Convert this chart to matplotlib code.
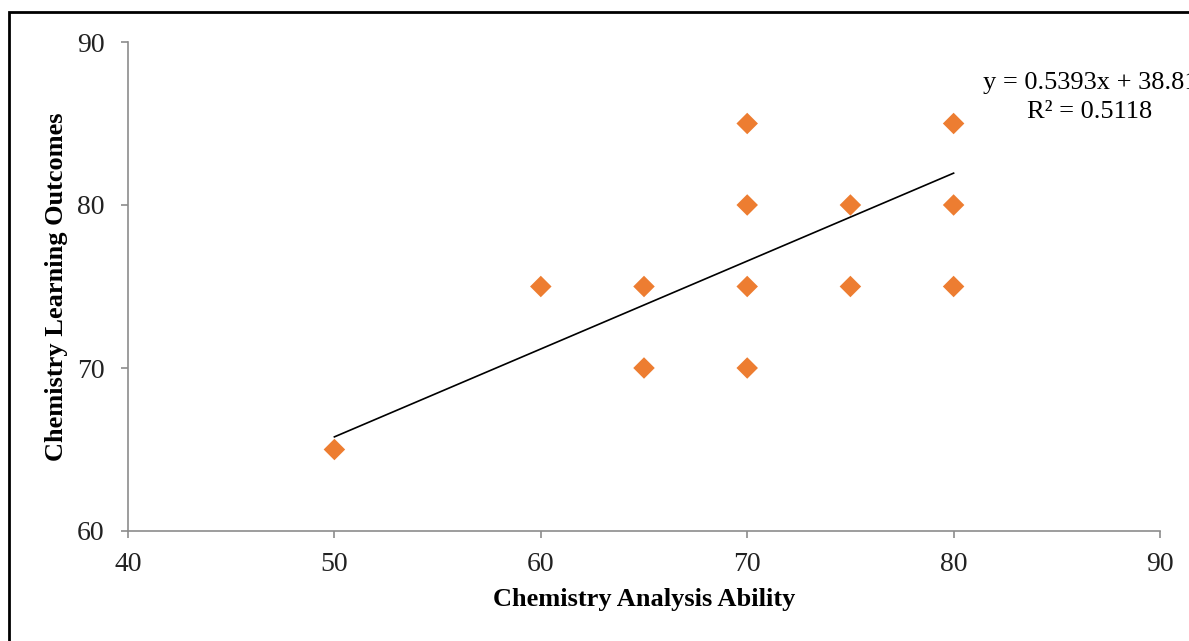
import matplotlib
matplotlib.use("Agg")
import matplotlib.pyplot as plt
from matplotlib.patches import Rectangle

# data
analysis_ability = [50, 60, 65, 65, 70, 70, 70, 70, 75, 75, 80, 80, 80]
learning_outcomes = [65, 75, 75, 70, 85, 80, 75, 70, 80, 75, 85, 80, 75]

# trendline as printed on the chart
slope = 0.5393
intercept = 38.81
r_squared = 0.5118
trend_x = [min(analysis_ability), max(analysis_ability)]
trend_y = [slope * x + intercept for x in trend_x]

plt.rcParams['font.family'] = ['Liberation Serif', 'DejaVu Serif']

fig = plt.figure(figsize=(11.89, 6.41), dpi=100)
ax = fig.add_axes([128 / 1189, 110 / 641, 1032 / 1189, 489 / 641])

# outer frame around the chart area (cut off at right and bottom)
fig.patches.append(Rectangle((9 / 1189, -0.05), 1.1, 0.05 + 629 / 641,
                             transform=fig.transFigure, fill=False,
                             edgecolor='black', linewidth=2))

ax.plot(trend_x, trend_y, color='black', linewidth=1.2, zorder=2)
ax.scatter(analysis_ability, learning_outcomes, marker='D', s=120,
           color='#ED7D31', edgecolors='none', zorder=3)

ax.set_xlim(40, 90)
ax.set_ylim(60, 90)
ax.set_xticks([40, 50, 60, 70, 80, 90])
ax.set_yticks([60, 70, 80, 90])

for side in ['top', 'right']:
    ax.spines[side].set_visible(False)
for side in ['left', 'bottom']:
    ax.spines[side].set_color('#8c8c8c')
    ax.spines[side].set_linewidth(1.2)

ax.tick_params(axis='both', direction='out', length=5, width=1.2,
               color='#8c8c8c', labelsize=20, labelcolor='#222222')
ax.tick_params(axis='x', pad=10)
ax.tick_params(axis='y', pad=12)

ax.set_xlabel('Chemistry Analysis Ability', fontsize=19, fontweight='bold',
              labelpad=8)
ax.set_ylabel('Chemistry Learning Outcomes', fontsize=19, fontweight='bold',
              labelpad=6)

fig.text(983 / 1189, 1 - 83 / 641,
         'y = 0.5393x + 38.81', fontsize=19, ha='left', va='center')
fig.text(1090 / 1189, 1 - 112 / 641,
         'R² = ' + str(r_squared), fontsize=19, ha='center', va='center')

plt.savefig('out.png', dpi=100)
